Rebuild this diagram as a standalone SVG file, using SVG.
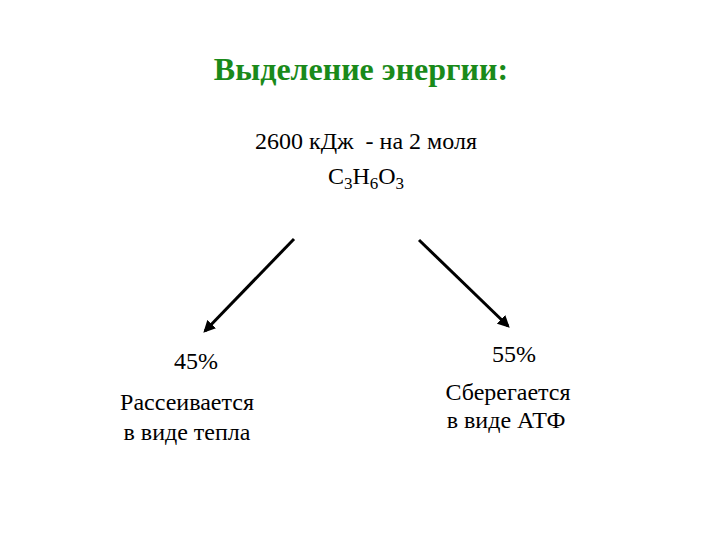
<svg xmlns="http://www.w3.org/2000/svg" width="720" height="540" viewBox="0 0 720 540">
<style>
.t{font-family:'Liberation Serif',serif;font-size:24px;fill:#000;text-anchor:middle}
.title{font-family:'Liberation Serif',serif;font-size:32px;font-weight:bold;fill:#1a8a1a;text-anchor:middle}
.c{stroke:#000;stroke-width:3;fill:none;marker-end:url(#ah)}
</style>
<defs>
<marker id="ah" viewBox="0 0 10 10" refX="8" refY="5" markerWidth="4" markerHeight="4" orient="auto" markerUnits="strokeWidth">
<path d="M0,0 L10,5 L0,10 z" fill="#000"/>
</marker>
</defs>
<rect width="720" height="540" fill="#fff"/>
<g font-family="'Liberation Serif', serif">
<g id="title"><text class="title" x="361" y="80">Выделение энергии:</text></g>
<g id="source">
<text class="t" x="366" y="149" xml:space="preserve">2600 кДж  - на 2 моля</text>
<text class="t" x="366" y="184">C<tspan font-size="17" dy="5">3</tspan><tspan dy="-5">H</tspan><tspan font-size="17" dy="5">6</tspan><tspan dy="-5">O</tspan><tspan font-size="17" dy="5">3</tspan></text>
</g>
<g id="heat">
<text class="t" x="196" y="369">45%</text>
<text class="t" x="187" y="410">Рассеивается</text>
<text class="t" x="187" y="440">в виде тепла</text>
</g>
<g id="atp">
<text class="t" x="514" y="362">55%</text>
<text class="t" x="508" y="400">Сберегается</text>
<text class="t" x="506" y="428">в виде АТФ</text>
</g>
</g>
<g id="connectors">
<line class="c" x1="294" y1="239" x2="205" y2="331"/>
<line class="c" x1="419" y1="240" x2="508" y2="326"/>
</g>
</svg>
